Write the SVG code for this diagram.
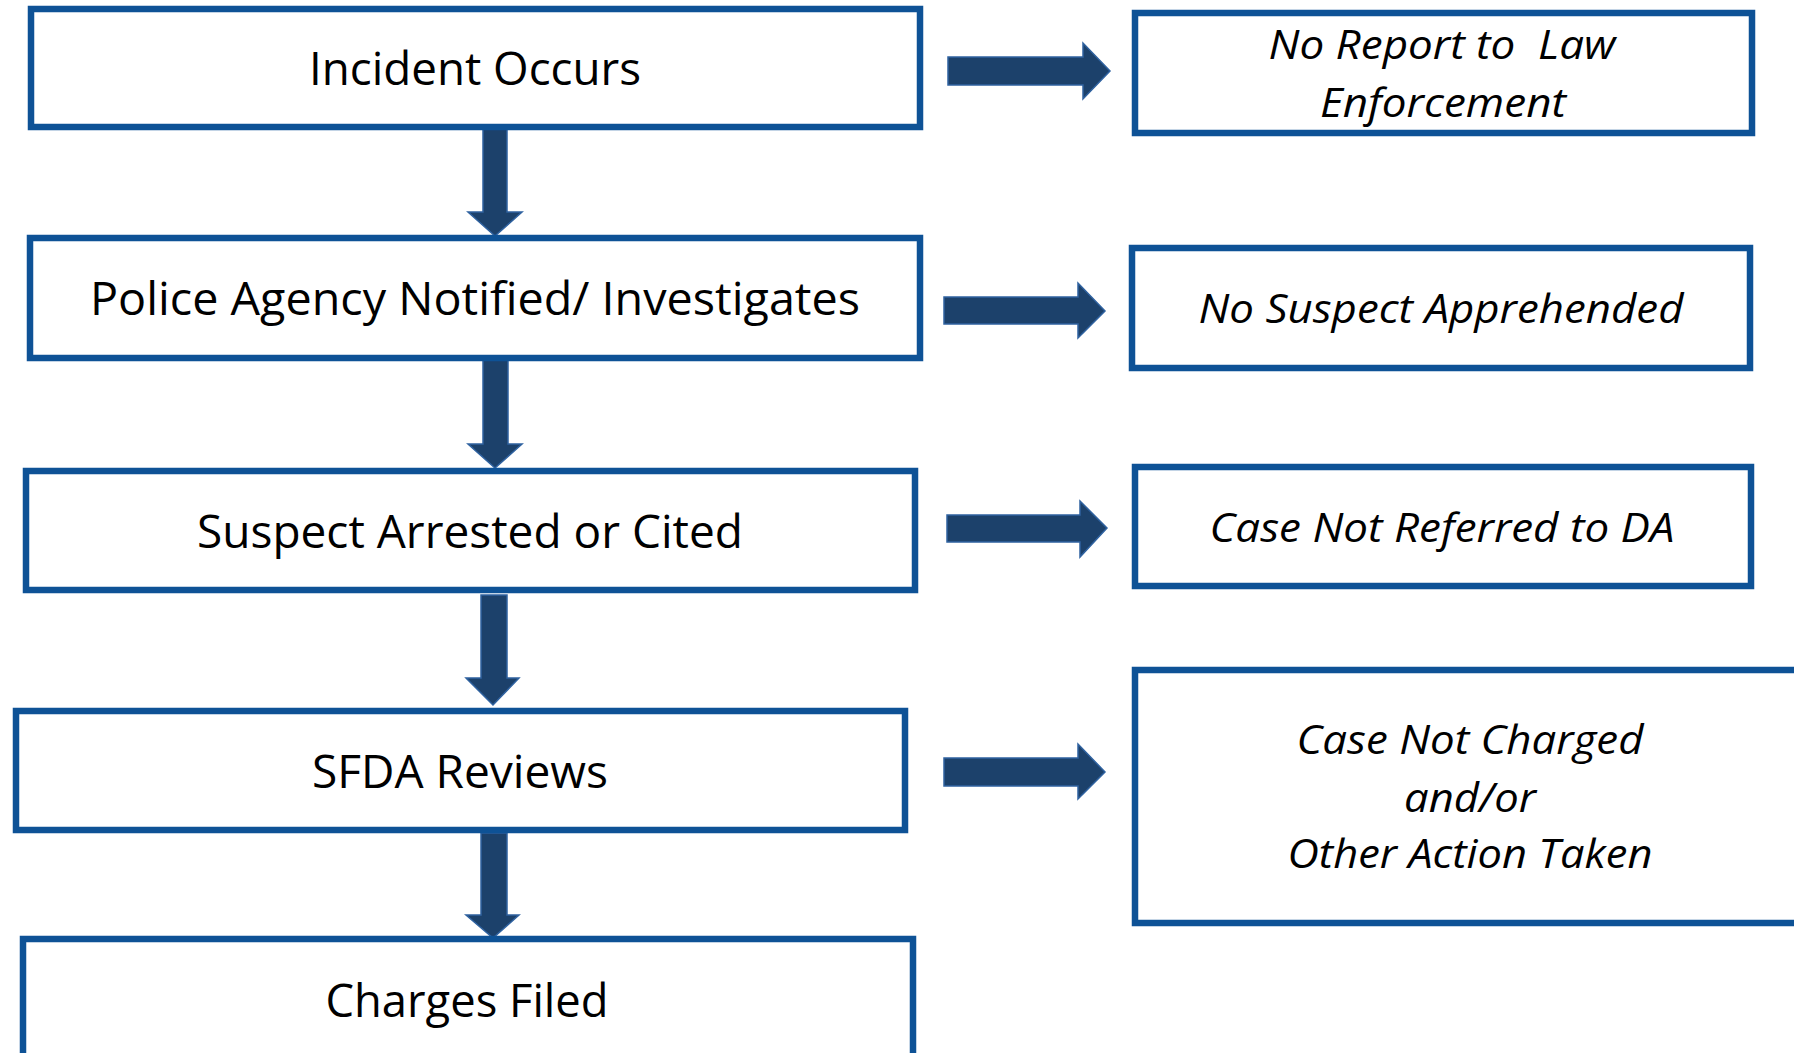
<svg xmlns="http://www.w3.org/2000/svg" width="1794" height="1053" viewBox="0 0 1794 1053">
<style>
.box{fill:#ffffff;stroke:#0e5296;stroke-width:6.5}
.arr{fill:#1c416b;stroke:#2f62a0;stroke-width:1.5;stroke-linejoin:miter}
.main{font-family:"Open Sans","Noto Sans",sans-serif;font-size:46px;fill:#000000;text-anchor:middle}
.side{font-family:"Open Sans","Noto Sans",sans-serif;font-size:41px;font-style:italic;fill:#000000;text-anchor:middle}
</style>
<rect x="0" y="0" width="1794" height="1053" fill="#ffffff"/>
<g id="connectors">
<polygon class="arr" points="483,128 507,128 507,212 522,212 495,236 468,212 483,212"/>
<polygon class="arr" points="483,360 508,360 508,444 522,444 495,468 468,444 483,444"/>
<polygon class="arr" points="481,595 507,595 507,678 519,678 493,705 466,678 481,678"/>
<polygon class="arr" points="481,833 507,833 507,915 519,915 493,938 466,915 481,915"/>
<polygon class="arr" points="948,57 1083,57 1083,43 1110,71 1083,99 1083,85 948,85"/>
<polygon class="arr" points="944,297 1078,297 1078,283 1105,311 1078,338 1078,324 944,324"/>
<polygon class="arr" points="947,515 1080,515 1080,501 1107,528 1080,557 1080,542 947,542"/>
<polygon class="arr" points="944,758 1078,758 1078,744 1105,772 1078,799 1078,786 944,786"/>
</g>
<g id="incident">
<rect class="box" x="31" y="9" width="889" height="118"/>
<text class="main" x="475" y="85" textLength="332" lengthAdjust="spacingAndGlyphs">Incident Occurs</text>
</g>
<g id="police">
<rect class="box" x="30" y="238" width="890" height="120"/>
<text class="main" x="475" y="315" textLength="770" lengthAdjust="spacingAndGlyphs">Police Agency Notified/ Investigates</text>
</g>
<g id="suspect">
<rect class="box" x="26" y="471" width="889" height="119"/>
<text class="main" x="470" y="548" textLength="546" lengthAdjust="spacingAndGlyphs">Suspect Arrested or Cited</text>
</g>
<g id="sfda">
<rect class="box" x="16" y="711" width="889" height="119"/>
<text class="main" x="460" y="788" textLength="296" lengthAdjust="spacingAndGlyphs">SFDA Reviews</text>
</g>
<g id="charges">
<rect class="box" x="23" y="939" width="890" height="140"/>
<text class="main" x="467" y="1017" textLength="283" lengthAdjust="spacingAndGlyphs">Charges Filed</text>
</g>
<g id="noreport">
<rect class="box" x="1135" y="13" width="617" height="120"/>
<text class="side" x="1442" y="59" textLength="347" lengthAdjust="spacingAndGlyphs" xml:space="preserve" style="white-space:pre">No Report to  Law</text>
<text class="side" x="1443" y="117" textLength="246" lengthAdjust="spacingAndGlyphs">Enforcement</text>
</g>
<g id="nosuspect">
<rect class="box" x="1132" y="248" width="618" height="120"/>
<text class="side" x="1441" y="323" textLength="485" lengthAdjust="spacingAndGlyphs">No Suspect Apprehended</text>
</g>
<g id="notreferred">
<rect class="box" x="1135" y="467" width="616" height="119"/>
<text class="side" x="1442" y="542" textLength="465" lengthAdjust="spacingAndGlyphs">Case Not Referred to DA</text>
</g>
<g id="notcharged">
<rect class="box" x="1135" y="670" width="720" height="253"/>
<text class="side" x="1470" y="754" textLength="347" lengthAdjust="spacingAndGlyphs">Case Not Charged</text>
<text class="side" x="1470" y="812" textLength="132" lengthAdjust="spacingAndGlyphs">and/or</text>
<text class="side" x="1470" y="868" textLength="365" lengthAdjust="spacingAndGlyphs">Other Action Taken</text>
</g>
</svg>
